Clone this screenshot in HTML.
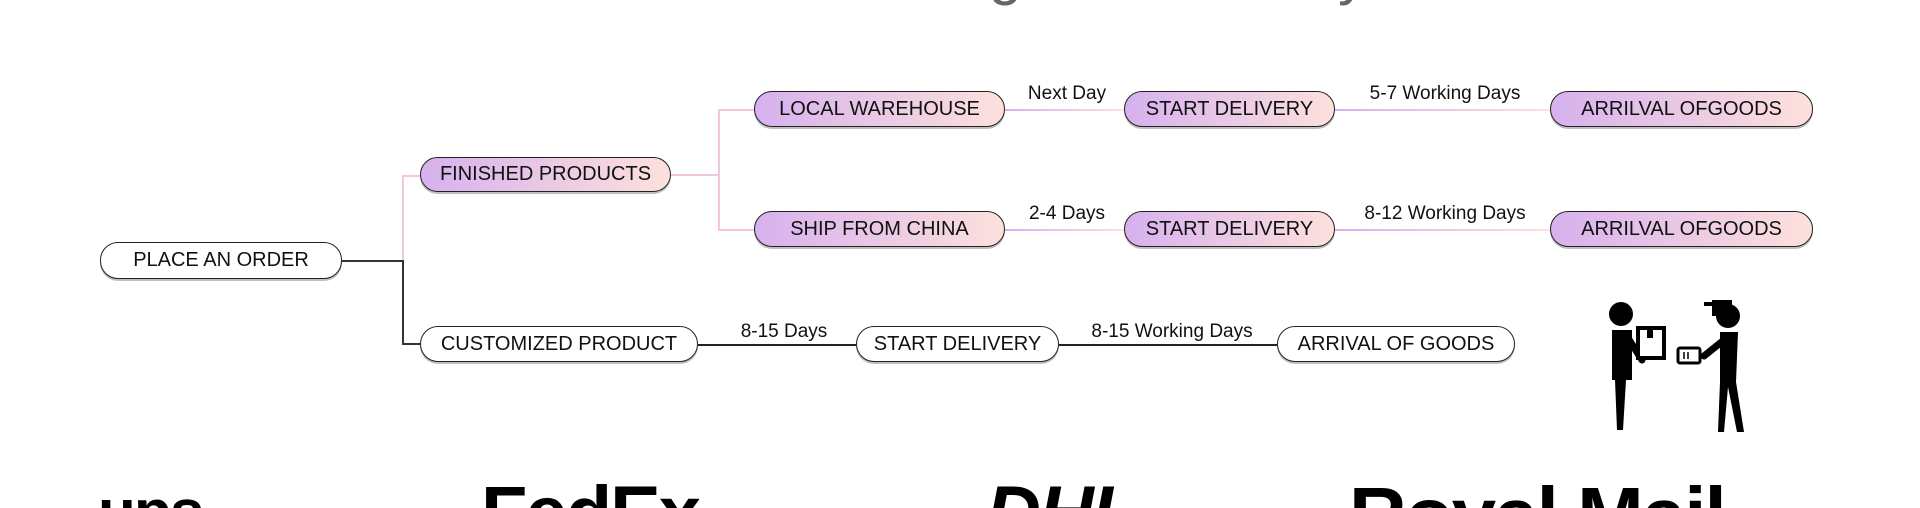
<!DOCTYPE html>
<html><head><meta charset="utf-8"><style>
html,body{margin:0;padding:0;width:1920px;height:508px;overflow:hidden;background:#fff}
#wrap{position:relative;width:1920px;height:508px;overflow:hidden;font-family:"Liberation Sans","DejaVu Sans",sans-serif}
.n{position:absolute;box-sizing:border-box;border:1.6px solid #222;border-radius:18px;display:flex;align-items:center;justify-content:center;font-size:20px;color:#111;white-space:nowrap;box-shadow:0 2px 0 rgba(0,0,0,.25)}
.g{background:linear-gradient(90deg,#d6b1ee,#fde1dc)}
.w{background:#fff}
.l{position:absolute;font-size:19px;color:#111;transform:translateX(-50%);white-space:nowrap}
.h{position:absolute;height:2px}
.v{position:absolute;width:2px}
.logo{position:absolute;font-weight:bold;color:#000;line-height:1;letter-spacing:-2px;height:40px;overflow:hidden}
.t{position:absolute;font-size:60px;color:#666;line-height:1;white-space:nowrap}
</style></head><body><div id="wrap">
<div class="t" style="right:898px;top:-57px">Ordering</div>
<div class="t" style="right:552px;top:-57px">and Delivery</div>

<div class="h" style="left:342px;top:260px;width:62px;background:#333"></div>
<div class="v" style="left:402px;top:175px;height:86px;background:#f3c6df"></div>
<div class="v" style="left:402px;top:260px;height:85px;background:#333"></div>
<div class="h" style="left:402px;top:175px;width:18px;background:#f3c6df"></div>
<div class="h" style="left:402px;top:343px;width:18px;background:#333"></div>
<div class="h" style="left:671px;top:174px;width:48px;background:#f3c6df"></div>
<div class="v" style="left:718px;top:109px;height:122px;background:#f3c6df"></div>
<div class="h" style="left:718px;top:109px;width:36px;background:#f3c6df"></div>
<div class="h" style="left:718px;top:229px;width:36px;background:#f3c6df"></div>
<div class="h" style="left:1005px;top:109px;width:119px;background:linear-gradient(90deg,#d6b1ee,#fde1dc)"></div>
<div class="h" style="left:1335px;top:109px;width:215px;background:linear-gradient(90deg,#d6b1ee,#fde1dc)"></div>
<div class="h" style="left:1005px;top:229px;width:119px;background:linear-gradient(90deg,#d6b1ee,#fde1dc)"></div>
<div class="h" style="left:1335px;top:229px;width:215px;background:linear-gradient(90deg,#d6b1ee,#fde1dc)"></div>
<div class="h" style="left:698px;top:344px;width:158px;background:#222"></div>
<div class="h" style="left:1059px;top:344px;width:218px;background:#222"></div>

<div class="n w" style="left:100px;top:242px;width:242px;height:37px">PLACE AN ORDER</div>
<div class="n g" style="left:420px;top:157px;width:251px;height:35px">FINISHED PRODUCTS</div>
<div class="n g" style="left:754px;top:91px;width:251px;height:36px">LOCAL WAREHOUSE</div>
<div class="n g" style="left:1124px;top:91px;width:211px;height:36px">START DELIVERY</div>
<div class="n g" style="left:1550px;top:91px;width:263px;height:36px">ARRILVAL OFGOODS</div>
<div class="n g" style="left:754px;top:211px;width:251px;height:36px">SHIP FROM CHINA</div>
<div class="n g" style="left:1124px;top:211px;width:211px;height:36px">START DELIVERY</div>
<div class="n g" style="left:1550px;top:211px;width:263px;height:36px">ARRILVAL OFGOODS</div>
<div class="n w" style="left:420px;top:326px;width:278px;height:36px">CUSTOMIZED PRODUCT</div>
<div class="n w" style="left:856px;top:326px;width:203px;height:36px">START DELIVERY</div>
<div class="n w" style="left:1277px;top:326px;width:238px;height:36px">ARRIVAL OF GOODS</div>

<div class="l" style="left:1067px;top:83px">Next Day</div>
<div class="l" style="left:1445px;top:83px">5-7 Working Days</div>
<div class="l" style="left:1067px;top:203px">2-4 Days</div>
<div class="l" style="left:1445px;top:203px">8-12 Working Days</div>
<div class="l" style="left:784px;top:321px">8-15 Days</div>
<div class="l" style="left:1172px;top:321px">8-15 Working Days</div>

<svg style="position:absolute;left:1600px;top:290px" width="160" height="145" viewBox="0 0 160 145">
 <circle cx="21" cy="24" r="12" fill="#000"/>
 <path d="M12 40 h20 v50 h-6 l-3 50 h-6 l-2-50 h-3z" fill="#000"/>
 <path d="M28 48 l14 22" stroke="#000" stroke-width="7" stroke-linecap="round"/>
 <rect x="38" y="38" width="26" height="30" fill="#fff" stroke="#000" stroke-width="4"/>
 <rect x="47" y="38" width="6" height="10" fill="#000"/>
 <path d="M112 10 h20 v16 h-20z" fill="#000"/>
 <circle cx="128" cy="26" r="12" fill="#000"/>
 <path d="M104 12 h10 v4 h-10z" fill="#000"/>
 <path d="M120 42 h18 l-2 50 l8 50 h-7 l-9-45 l-4 45 h-6 l2-50z" fill="#000"/>
 <path d="M124 50 l-20 16" stroke="#000" stroke-width="7" stroke-linecap="round"/>
 <rect x="78" y="58" width="22" height="15" rx="2" fill="#fff" stroke="#000" stroke-width="3"/>
 <path d="M84 62 v7 M88 62 v7" stroke="#000" stroke-width="1.5"/>
</svg>

<div class="logo" style="left:98px;top:482px;height:26px;font-size:62px">ups</div>
<div class="logo" style="left:481px;top:476px;height:32px;font-size:76px">FedEx</div>
<div class="logo" style="left:986px;top:476px;height:32px;font-size:76px;font-style:italic">DHL</div>
<div class="logo" style="left:1349px;top:476px;height:32px;font-size:80px">Royal Mail</div>
</div></body></html>
